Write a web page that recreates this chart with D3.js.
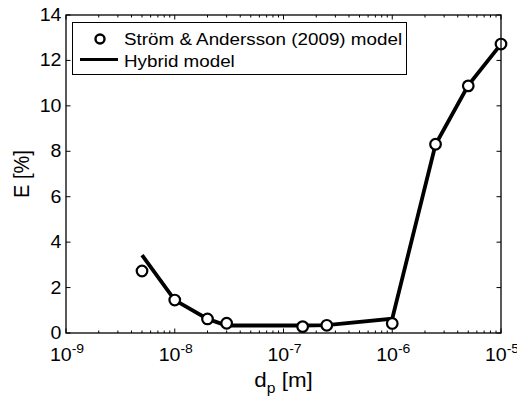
<!DOCTYPE html>
<html>
<head>
<meta charset="utf-8">
<script src="https://cdn.jsdelivr.net/npm/d3@7"></script>
<style>
  html, body { margin: 0; padding: 0; background: #fff; }
  svg { display: block; }
  text { font-family: "Liberation Sans", Arial, Helvetica, sans-serif; fill: #000; }
</style>
</head>
<body>
<svg id="chart" width="517" height="396"></svg>
<script>
// ---- data ----
const diameters = [5e-9, 1e-8, 2e-8, 3e-8, 1.5e-7, 2.5e-7, 1e-6, 2.5e-6, 5e-6, 1e-5];
const stromValues = [2.73, 1.45, 0.62, 0.43, 0.28, 0.34, 0.42, 8.31, 10.88, 12.72];
const hybridValues = [3.43, 1.45, 0.62, 0.33, 0.33, 0.35, 0.63, 8.3, 10.9, 12.72];
const xTickExponents = [-9, -8, -7, -6, -5];
const yTickValues = [0, 2, 4, 6, 8, 10, 12, 14];
const legendLabels = ["Ström & Andersson (2009) model", "Hybrid model"];
const xLabelMain = "d";
const xLabelSub = "p";
const xLabelRest = " [m]";
const yLabelText = "E [%]";

// ---- layout ----
const W = 517, H = 396;
const mLeft = 66, mRight = 501, mTop = 15, mBottom = 333;
const SX = 1.12; // horizontal text stretch of the reference

const svg = d3.select("#chart");
svg.append("rect").attr("width", W).attr("height", H).attr("fill", "#fff");

const x = d3.scaleLog().domain([1e-9, 1e-5]).range([mLeft, mRight]);
const y = d3.scaleLinear().domain([0, 14]).range([mBottom, mTop]);

// helper for stretched text
function stext(px, py, opts) {
  const g = svg.append("g").attr("transform", `translate(${px},${py}) scale(${SX},1)` + (opts.rotate ? ` rotate(${opts.rotate})` : ""));
  const t = g.append("text").attr("x", 0).attr("y", 0)
    .attr("text-anchor", opts.anchor || "start")
    .attr("font-size", opts.size || 17);
  return t;
}

// ---- ticks ----
const majorLen = 4.5, minorLen = 2.5;
const tickG = svg.append("g").attr("stroke", "#000").attr("stroke-width", 1);
const minorTicks = [];
for (let e = -9; e < -5; e++) {
  for (let m = 2; m <= 9; m++) minorTicks.push(m * Math.pow(10, e));
}
const majorTicks = xTickExponents.map(e => Math.pow(10, e));
majorTicks.forEach(v => {
  const px = x(v);
  tickG.append("line").attr("x1", px).attr("x2", px).attr("y1", mBottom).attr("y2", mBottom - majorLen);
  tickG.append("line").attr("x1", px).attr("x2", px).attr("y1", mTop).attr("y2", mTop + majorLen);
});
minorTicks.forEach(v => {
  const px = x(v);
  tickG.append("line").attr("x1", px).attr("x2", px).attr("y1", mBottom).attr("y2", mBottom - minorLen);
  tickG.append("line").attr("x1", px).attr("x2", px).attr("y1", mTop).attr("y2", mTop + minorLen);
});
yTickValues.forEach(v => {
  const py = y(v);
  tickG.append("line").attr("x1", mLeft).attr("x2", mLeft + majorLen).attr("y1", py).attr("y2", py);
  tickG.append("line").attr("x1", mRight).attr("x2", mRight - majorLen).attr("y1", py).attr("y2", py);
});

// ---- tick labels ----
xTickExponents.forEach(e => {
  const t = stext(x(Math.pow(10, e)) + 1, 361, { anchor: "middle", size: 17.5 });
  t.append("tspan").text("10");
  t.append("tspan").attr("font-size", 12.5).attr("dy", -8.5).text("-" + Math.abs(e));
});
yTickValues.forEach(v => {
  stext(61.5, y(v) + 6, { anchor: "end", size: 17.5 }).text(v);
});

// ---- axis labels ----
const xl = stext(283.5, 386.5, { anchor: "middle", size: 20 });
xl.append("tspan").text(xLabelMain);
xl.append("tspan").attr("font-size", 14).attr("dy", 6.5).text(xLabelSub);
xl.append("tspan").attr("dy", -6.5).text(xLabelRest);

stext(29, 174, { anchor: "middle", size: 20, rotate: -90 }).text(yLabelText);

// ---- data ----
const hybridData = diameters.map((d, i) => ({ d, v: hybridValues[i] }));
const stromData = diameters.map((d, i) => ({ d, v: stromValues[i] }));

const line = d3.line().x(p => x(p.d)).y(p => y(p.v));
svg.append("path").datum(hybridData)
  .attr("d", line).attr("fill", "none").attr("stroke", "#000")
  .attr("stroke-width", 3.8).attr("stroke-linejoin", "miter");

svg.append("g").selectAll("circle").data(stromData).join("circle")
  .attr("cx", p => x(p.d)).attr("cy", p => y(p.v)).attr("r", 5.3)
  .attr("fill", "#fff").attr("stroke", "#000").attr("stroke-width", 2.2);

// ---- axes box ----
svg.append("rect").attr("x", mLeft).attr("y", mTop).attr("width", mRight - mLeft).attr("height", mBottom - mTop)
  .attr("fill", "none").attr("stroke", "#000").attr("stroke-width", 1.3);

// ---- legend ----
const lg = svg.append("g");
lg.append("rect").attr("x", 72.5).attr("y", 22.5).attr("width", 334).attr("height", 52)
  .attr("fill", "#fff").attr("stroke", "#000").attr("stroke-width", 1);
lg.append("circle").attr("cx", 100).attr("cy", 39).attr("r", 4.5)
  .attr("fill", "#fff").attr("stroke", "#000").attr("stroke-width", 2.4);
lg.append("line").attr("x1", 80).attr("x2", 118).attr("y1", 59.5).attr("y2", 59.5)
  .attr("stroke", "#000").attr("stroke-width", 3);
stext(124, 44.5, { size: 16.8 }).text(legendLabels[0]);
stext(124, 67, { size: 16.8 }).text(legendLabels[1]);
</script>
</body>
</html>
